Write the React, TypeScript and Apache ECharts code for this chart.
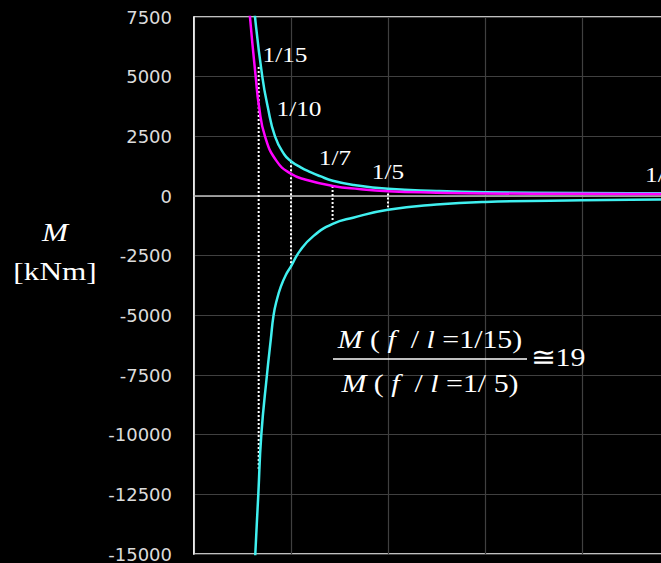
import React, { useEffect, useRef } from 'react';
import * as echarts from 'echarts';

// axis ranges
const yMin = -15000;
const yMax = 7500;
const yStep = 2500;
const xMin = 0;
const xMax = 0.6;
const xStep = 0.1;

// f/l ratio (x) and bending moment M [kNm] (y)
const upperX = [0.058, 0.0629, 0.0704, 0.0759, 0.0835, 0.0931, 0.1, 0.11, 0.12, 0.13, 0.143, 0.165, 0.2, 0.25, 0.3, 0.4, 0.5, 0.6];
const upperM = [9700, 7500, 5000, 3760, 2500, 1740, 1460, 1200, 1000, 830, 640, 460, 300, 210, 160, 125, 110, 100];

const magentaX = [0.053, 0.0577, 0.0636, 0.067, 0.0732, 0.0852, 0.1, 0.1144, 0.143, 0.17, 0.2, 0.25, 0.3, 0.4, 0.5, 0.6];
const magentaM = [9900, 7500, 5000, 3760, 2500, 1460, 930, 690, 420, 290, 200, 140, 105, 90, 85, 80];

const lowerX = [0.0605, 0.0632, 0.0663, 0.0694, 0.0752, 0.0792, 0.082, 0.0851, 0.0895, 0.0948, 0.1, 0.109, 0.123, 0.143, 0.164, 0.2, 0.25, 0.3, 0.4, 0.5, 0.6];
const lowerM = [-17400, -15000, -12500, -10000, -7500, -6000, -5000, -4400, -3800, -3300, -2950, -2310, -1680, -1170, -910, -580, -360, -250, -180, -145, -125];

// dotted drop lines at chosen ratios
const dropX = [1 / 15, 1 / 10, 1 / 7, 1 / 5];
const dropTop = [5400, 1460, 420, 270];
const dropBottom = [-11500, -2950, -1050, -470];

const ratioLabels = ['1/15', '1/10', '1/7', '1/5', '1/2'];

const CYAN = '#40f0f0';
const MAGENTA = '#ff00ff';
const SERIF = '"Liberation Serif", "Times New Roman", serif';

const zip = (xs: number[], ys: number[]) => xs.map((x, i) => [x, ys[i]]);

export default function App() {
  const ref = useRef<HTMLDivElement>(null);

  useEffect(() => {
    document.body.style.margin = '0';
    document.body.style.background = '#000';
    if (!ref.current) return;
    const chart = echarts.init(ref.current, undefined, { renderer: 'svg' });

    const labelPos = [
      { x: 285, y: 55, align: 'center' },
      { x: 299, y: 109, align: 'center' },
      { x: 335, y: 158, align: 'center' },
      { x: 388, y: 172, align: 'center' },
      { x: 645, y: 175, align: 'left' },
    ];

    const drops = dropX.map((x, i) => ({
      type: 'line',
      data: [[x, dropTop[i]], [x, dropBottom[i]]],
      showSymbol: false,
      silent: true,
      z: 2,
      lineStyle: { color: '#ffffff', width: 2, type: [2, 2] },
    }));

    const rich = {
      i: { fontStyle: 'italic', fontFamily: SERIF, fontSize: 26, fill: '#fff', color: '#fff' },
    };

    const curve = (xs: number[], ys: number[], color: string, z: number) => ({
      type: 'line',
      data: zip(xs, ys),
      showSymbol: false,
      smooth: 0.5,
      z,
      lineStyle: { color, width: 2.5, join: 'round', cap: 'round' },
    });

    chart.setOption({
      animation: false,
      backgroundColor: '#000000',
      grid: {
        left: 194,
        top: 17,
        width: 582,
        height: 537,
        show: true,
        borderColor: '#ffffff',
        borderWidth: 1.5,
        backgroundColor: '#000000',
      },
      xAxis: {
        type: 'value',
        min: xMin,
        max: xMax,
        interval: xStep,
        axisLine: { onZero: true, lineStyle: { color: '#c0c0c0', width: 1.5 } },
        axisTick: { show: false },
        axisLabel: { show: false },
        splitLine: { show: true, lineStyle: { color: '#404040', width: 1.2 } },
      },
      yAxis: {
        type: 'value',
        min: yMin,
        max: yMax,
        interval: yStep,
        axisLine: { show: true, onZero: false, lineStyle: { color: '#ffffff', width: 1.5 } },
        axisTick: { show: false },
        axisLabel: {
          color: '#dcdcdc',
          fontFamily: '"DejaVu Sans", sans-serif',
          fontSize: 18,
          margin: 22,
          formatter: (v: number) => String(v),
        },
        splitLine: { show: true, lineStyle: { color: '#404040', width: 1.2 } },
      },
      series: [
        ...drops,
        curve(upperX, upperM, CYAN, 3),
        curve(lowerX, lowerM, CYAN, 3),
        curve(magentaX, magentaM, MAGENTA, 4),
      ],
      graphic: [
        ...ratioLabels.map((t, i) => ({
          type: 'text',
          x: labelPos[i].x,
          y: labelPos[i].y,
          scaleX: 1.15,
          z: 10,
          style: {
            text: t,
            fill: '#ffffff',
            font: `22px ${SERIF}`,
            align: labelPos[i].align,
            verticalAlign: 'middle',
          },
        })),
        {
          type: 'text',
          x: 55,
          y: 233,
          scaleX: 1.25,
          z: 10,
          style: { text: 'M', fill: '#ffffff', font: `italic 25px ${SERIF}`, align: 'center', verticalAlign: 'middle' },
        },
        {
          type: 'text',
          x: 55,
          y: 272,
          scaleX: 1.25,
          z: 10,
          style: { text: '[kNm]', fill: '#ffffff', font: `25px ${SERIF}`, align: 'center', verticalAlign: 'middle' },
        },
        {
          type: 'text',
          x: 430,
          y: 339,
          scaleX: 1.15,
          z: 10,
          style: {
            text: '{i|M} ( {i|f}  / {i|l} =1/15)',
            rich,
            fill: '#ffffff',
            fontFamily: SERIF,
            fontSize: 26,
            align: 'center',
            verticalAlign: 'middle',
          },
        },
        {
          type: 'line',
          z: 10,
          shape: { x1: 333, y1: 359, x2: 527, y2: 359 },
          style: { stroke: '#ffffff', lineWidth: 1.5 },
        },
        {
          type: 'text',
          x: 430,
          y: 383,
          scaleX: 1.15,
          z: 10,
          style: {
            text: '{i|M} ( {i|f}  / {i|l} =1/ 5)',
            rich,
            fill: '#ffffff',
            fontFamily: SERIF,
            fontSize: 26,
            align: 'center',
            verticalAlign: 'middle',
          },
        },
        {
          type: 'text',
          x: 531,
          y: 357,
          scaleX: 1.15,
          z: 10,
          style: { text: '≅19', fill: '#ffffff', font: `26px ${SERIF}`, align: 'left', verticalAlign: 'middle' },
        },
      ],
    });

    return () => chart.dispose();
  }, []);

  return (
    <div style={{ width: 661, height: 563, overflow: 'hidden', background: '#000' }}>
      <div ref={ref} style={{ width: 800, height: 563 }} />
    </div>
  );
}
